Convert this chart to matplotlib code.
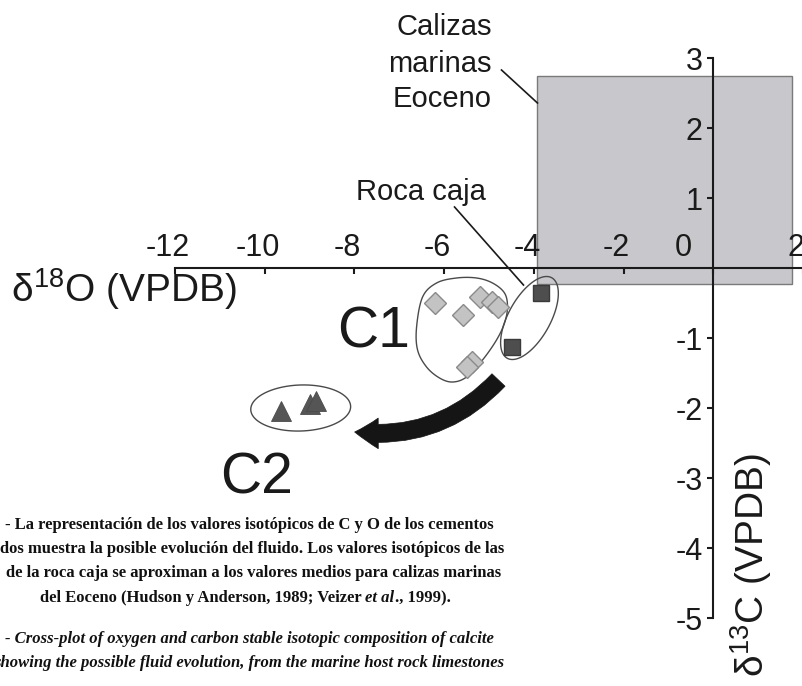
import numpy as np
import matplotlib
matplotlib.use("Agg")
import matplotlib.pyplot as plt
from matplotlib.patches import Rectangle, FancyArrowPatch, Polygon
from matplotlib.transforms import ScaledTranslation

plt.rcParams['font.family'] = ['Liberation Sans', 'DejaVu Sans']
plt.rcParams['mathtext.fontset'] = 'custom'
plt.rcParams['mathtext.default'] = 'regular'

# ---------------- data ----------------
c1_d18O = [-6.21, -5.21, -4.94, -4.81, -5.59, -5.39, -5.50]
c1_d13C = [-0.50, -0.41, -0.49, -0.56, -0.67, -1.34, -1.41]
host_d18O = [-3.83, -4.48]
host_d13C = [-0.36, -1.13]
c2_d18O = [-9.63, -9.00, -8.86]
c2_d13C = [-2.04, -1.94, -1.90]

eocene_d18O = [-3.92, 1.76]
eocene_d13C = [-0.23, 2.74]

x_ticks = [-12, -10, -8, -6, -4, -2, 0, 2]
x_tick_labels = ['-12', '-10', '-8', '-6', '-4', '-2', '0', '2']
y_ticks = [3, 2, 1, -1, -2, -3, -4, -5]
y_tick_labels = ['3', '2', '1', '-1', '-2', '-3', '-4', '-5']

caption_es = [
    "- La representación de los valores isotópicos de C y O de los cementos",
    "dos muestra la posible evolución del fluido. Los valores isotópicos de las",
    "de la roca caja se aproximan a los valores medios para calizas marinas",
]
caption_es_last = ["del Eoceno (Hudson y Anderson, 1989; Veizer ", "et al", "., 1999)."]
caption_en = [
    "- Cross-plot of oxygen and carbon stable isotopic composition of calcite",
    "showing the possible fluid evolution, from the marine host rock limestones",
]

# ---------------- layout helpers ----------------
W, H, DPI = 803, 686, 100
X0, XS, Y0, YS = 714.0, 44.9, 268.0, 70.0


def px(x, y):
    return ((x - X0) / XS, (Y0 - y) / YS)


fig = plt.figure(figsize=(W / DPI, H / DPI), dpi=DPI)
ax = fig.add_axes([0, 0, 1, 1])
ax.set_xlim(px(0, 0)[0], px(W, 0)[0])
ax.set_ylim(px(0, H)[1], px(0, 0)[1])
ax.patch.set_visible(False)

# axes spines through origin
ax.spines['bottom'].set_visible(False)
ax.spines['right'].set_visible(False)
ax.spines['top'].set_position(('data', 0))
ax.spines['top'].set_bounds(-12, 2.2)
ax.spines['left'].set_position(('data', 0))
ax.spines['left'].set_bounds(-5, 3)
for s in ('top', 'left'):
    ax.spines[s].set_linewidth(1.5)
    ax.spines[s].set_color('#1a1a1a')
    ax.spines[s].set_zorder(3)

ax.xaxis.set_ticks_position('top')
ax.set_xticks(x_ticks, labels=x_tick_labels)
ax.set_yticks(y_ticks, labels=y_tick_labels)
ax.tick_params(axis='x', direction='in', length=4.5, width=1.5, pad=3.5,
               labelsize=22, colors='#1a1a1a')
ax.tick_params(axis='y', direction='out', length=4.5, width=1.5, pad=3.0,
               labelsize=22, colors='#1a1a1a')

for tk, lab in zip(ax.xaxis.get_major_ticks(), x_tick_labels):
    dx = -30 if lab == '0' else -7
    tk.label2.set_transform(tk.label2.get_transform() +
                            ScaledTranslation(dx / DPI, 0, fig.dpi_scale_trans))

# Eocene marine limestone box
ax.add_patch(Rectangle((eocene_d18O[0], eocene_d13C[0]),
                       eocene_d18O[1] - eocene_d18O[0],
                       eocene_d13C[1] - eocene_d13C[0],
                       facecolor='#c8c8cc', edgecolor='#7a7a7a', lw=1.0, zorder=1))

# group outlines
def ellipse_pts(cx, cy, a, b, ang):
    t = np.linspace(0, 2 * np.pi, 200)
    th = np.deg2rad(ang)
    dx = a * np.cos(t) * np.cos(th) - b * np.sin(t) * np.sin(th)
    dy = a * np.cos(t) * np.sin(th) + b * np.sin(t) * np.cos(th)
    return [px(cx + u, cy - v) for u, v in zip(dx, dy)]


def closed_spline(pts, n=20):
    p = np.array(pts, float)
    out = []
    m = len(p)
    for i in range(m):
        p0, p1, p2, p3 = p[i - 1], p[i], p[(i + 1) % m], p[(i + 2) % m]
        for t in np.linspace(0, 1, n, endpoint=False):
            t2, t3 = t * t, t * t * t
            q = 0.5 * ((2 * p1) + (-p0 + p2) * t + (2 * p0 - 5 * p1 + 4 * p2 - p3) * t2
                       + (-p0 + 3 * p1 - 3 * p2 + p3) * t3)
            out.append(px(*q))
    return out


c1_outline = [(457, 278), (477, 278), (493, 283), (505, 293), (508, 307), (505, 323),
              (497, 340), (483, 360), (467, 377), (453, 382), (440, 378), (427, 367),
              (418, 350), (417, 327), (423, 297), (437, 283)]
outline_kw = dict(fill=False, edgecolor='#4a4a4a', lw=1.0, zorder=2)
ax.add_patch(Polygon(closed_spline(c1_outline), closed=True, **outline_kw))
ax.add_patch(Polygon(ellipse_pts(530, 318, 46, 21, 61), closed=True, **outline_kw))
ax.add_patch(Polygon(ellipse_pts(301, 408, 50, 23, 2), closed=True, **outline_kw))

# points
ax.plot(c1_d18O, c1_d13C, ls='none', marker='D', ms=11.5, mfc='#c3c3c3',
        mec='#8a8a8a', mew=1.0, zorder=4)
ax.plot(host_d18O, host_d13C, ls='none', marker='s', ms=12, mfc='#4e4e4e',
        mec='#3a3a3a', mew=1.0, zorder=4)
ax.plot(c2_d18O, c2_d13C, ls='none', marker='^', ms=14, mfc='#555555',
        mec='#4a4a4a', mew=0.6, zorder=4)

# evolution arrow
ax.add_patch(FancyArrowPatch(px(499, 380), px(355, 432),
                             connectionstyle='arc3,rad=-0.25',
                             arrowstyle='simple,head_length=17,head_width=22,tail_width=13',
                             mutation_scale=1, shrinkA=0, shrinkB=0,
                             facecolor='#151515', edgecolor='#151515', lw=0.5, zorder=4))

# leader lines
ax.plot(*zip(px(502, 70), px(538, 103)), color='#1a1a1a', lw=1.2, zorder=3)
ax.plot(*zip(px(455, 207), px(524, 285)), color='#1a1a1a', lw=1.2, zorder=3)

# labels
tc = '#1a1a1a'
for txt, yb in zip(["Calizas", "marinas", "Eoceno"], [35, 72, 107]):
    ax.text(*px(492, yb), txt, ha='right', va='baseline', fontsize=21, color=tc)
ax.text(*px(421, 200), "Roca caja", ha='center', va='baseline', fontsize=21, color=tc)
ax.text(*px(374, 347), "C1", ha='center', va='baseline', fontsize=41, color=tc)
ax.text(*px(257, 493), "C2", ha='center', va='baseline', fontsize=41, color=tc)

ax.text(*px(124, 302), "δ$^{18}$O (VPDB)", ha='center', va='baseline', fontsize=28, color=tc)
ax.text(*px(752, 565), "δ$^{13}$C (VPDB)", ha='center', va='center', rotation=90,
        fontsize=28, color=tc)

# caption
cfs = 12.0
cap_kw = dict(family=['Liberation Serif', 'DejaVu Serif'], fontweight='bold',
              fontsize=cfs, color='#111111', va='baseline', ha='left')
for txt, x, yb in zip(caption_es, [5, 0, 6], [529, 553, 577]):
    ax.text(*px(x, yb), txt, **cap_kw)
t1 = ax.text(*px(40, 602), caption_es_last[0], **cap_kw)
t2 = ax.annotate(caption_es_last[1], xy=(1, 0), xycoords=t1, va='bottom', ha='left',
                 family=['Liberation Serif'], fontweight='bold', style='italic',
                 fontsize=cfs, color='#111111')
ax.annotate(caption_es_last[2], xy=(1, 0), xycoords=t2, va='bottom', ha='left',
            family=['Liberation Serif'], fontweight='bold', fontsize=cfs, color='#111111')
for txt, x, yb in zip(caption_en, [5, -6], [643, 667]):
    ax.text(*px(x, yb), txt, style='italic', **cap_kw)

fig.savefig('out.png', dpi=DPI, facecolor='white')
